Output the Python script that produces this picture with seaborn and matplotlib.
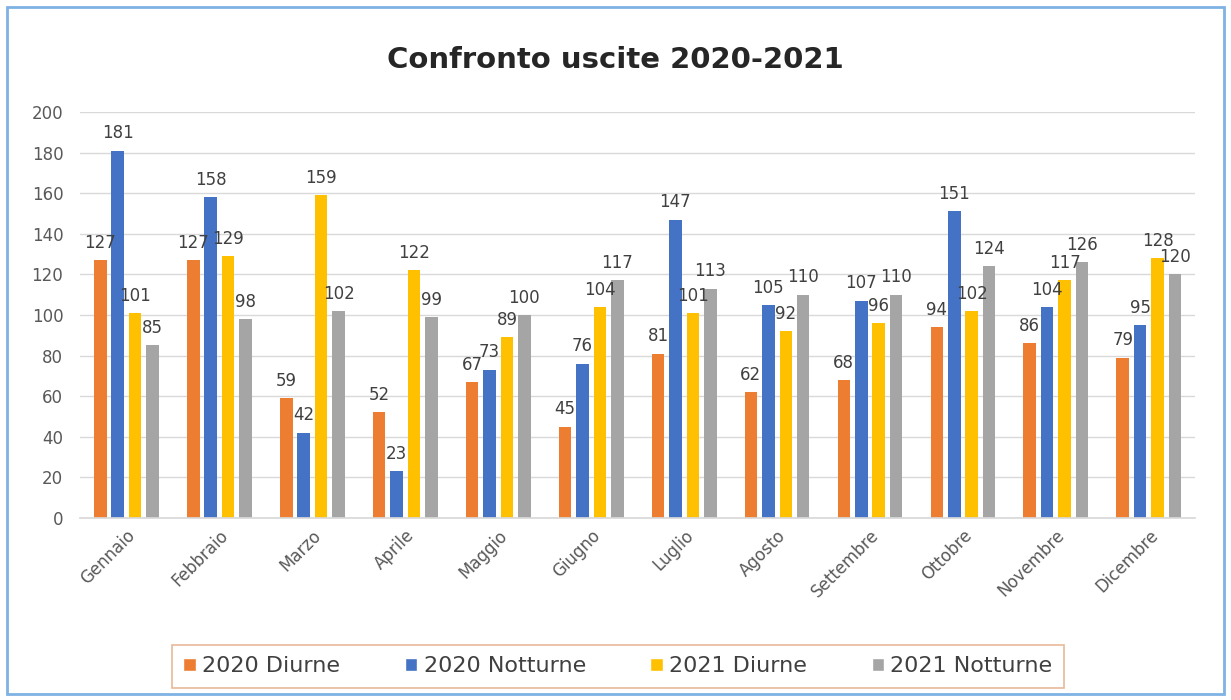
import matplotlib
matplotlib.use("Agg")
import matplotlib.pyplot as plt
import matplotlib.patches as mpatches
import seaborn as sns
import pandas as pd

months = ["Gennaio", "Febbraio", "Marzo", "Aprile", "Maggio", "Giugno",
          "Luglio", "Agosto", "Settembre", "Ottobre", "Novembre", "Dicembre"]
series_names = ["2020 Diurne", "2020 Notturne", "2021 Diurne", "2021 Notturne"]
diurne_2020 = [127, 127, 59, 52, 67, 45, 81, 62, 68, 94, 86, 79]
notturne_2020 = [181, 158, 42, 23, 73, 76, 147, 105, 107, 151, 104, 95]
diurne_2021 = [101, 129, 159, 122, 89, 104, 101, 92, 96, 102, 117, 128]
notturne_2021 = [85, 98, 102, 99, 100, 117, 113, 110, 110, 124, 126, 120]
colors = ["#ED7D31", "#4472C4", "#FFC000", "#A5A5A5"]

series_values = [diurne_2020, notturne_2020, diurne_2021, notturne_2021]
rows = []
for name, vals in zip(series_names, series_values):
    for m, v in zip(months, vals):
        rows.append({"Mese": m, "Serie": name, "Uscite": v})
df = pd.DataFrame(rows)

sns.set_theme(style="white")
plt.rcParams["font.family"] = ["DejaVu Sans"]

fig = plt.figure(figsize=(12.31, 7.0), dpi=100)
ax = fig.add_axes([0.065, 0.26, 0.906, 0.58])

sns.barplot(data=df, x="Mese", y="Uscite", hue="Serie", order=months,
            hue_order=series_names, palette=colors, width=0.75,
            saturation=1, errorbar=None, ax=ax, legend=False)

# Narrow each bar so that a small gap separates neighbouring series
for cont in ax.containers:
    for bar in cont:
        w = bar.get_width()
        cx = bar.get_x() + w / 2
        nw = w * 0.72
        bar.set_x(cx - nw / 2)
        bar.set_width(nw)
        bar.set_edgecolor("none")
    ax.bar_label(cont, fmt="%d", padding=6, fontsize=12, color="#404040")

ax.set_ylim(0, 200)
ax.set_yticks(range(0, 201, 20))
ax.set_xlim(-0.5, len(months) - 0.5)
ax.yaxis.grid(True, color="#D9D9D9", linewidth=1)
ax.set_axisbelow(True)
for s in ["top", "right", "left"]:
    ax.spines[s].set_visible(False)
ax.spines["bottom"].set_color("#D9D9D9")
ax.set_xlabel("")
ax.set_ylabel("")
ax.tick_params(axis="y", labelsize=12, labelcolor="#595959", length=0, pad=12)
ax.tick_params(axis="x", labelsize=12, labelcolor="#595959", length=0, pad=6)
for lbl in ax.get_xticklabels():
    lbl.set_rotation(45)
    lbl.set_ha("right")
    lbl.set_rotation_mode("anchor")

fig.text(0.5, 0.915, "Confronto uscite 2020-2021", ha="center", va="center",
         fontsize=21, fontweight="bold", color="#262626")

handles = [mpatches.Patch(facecolor=c, label=n) for c, n in zip(colors, series_names)]
leg = fig.legend(handles=handles, loc="center", bbox_to_anchor=(0.502, 0.048),
                 ncol=4, frameon=True, fontsize=16, handlelength=0.55,
                 handleheight=0.55, handletextpad=0.3, columnspacing=2.9,
                 borderpad=0.5, fancybox=False, borderaxespad=0)
leg.get_frame().set_edgecolor("#E2A77E")
leg.get_frame().set_linewidth(1.2)
for t in leg.get_texts():
    t.set_color("#404040")

# Outer border of the chart area
fig.patches.append(mpatches.Rectangle((0.006, 0.008), 0.988, 0.982,
                                      transform=fig.transFigure, fill=False,
                                      edgecolor="#7FB2E5", linewidth=2))

fig.savefig("out.png", dpi=100)
